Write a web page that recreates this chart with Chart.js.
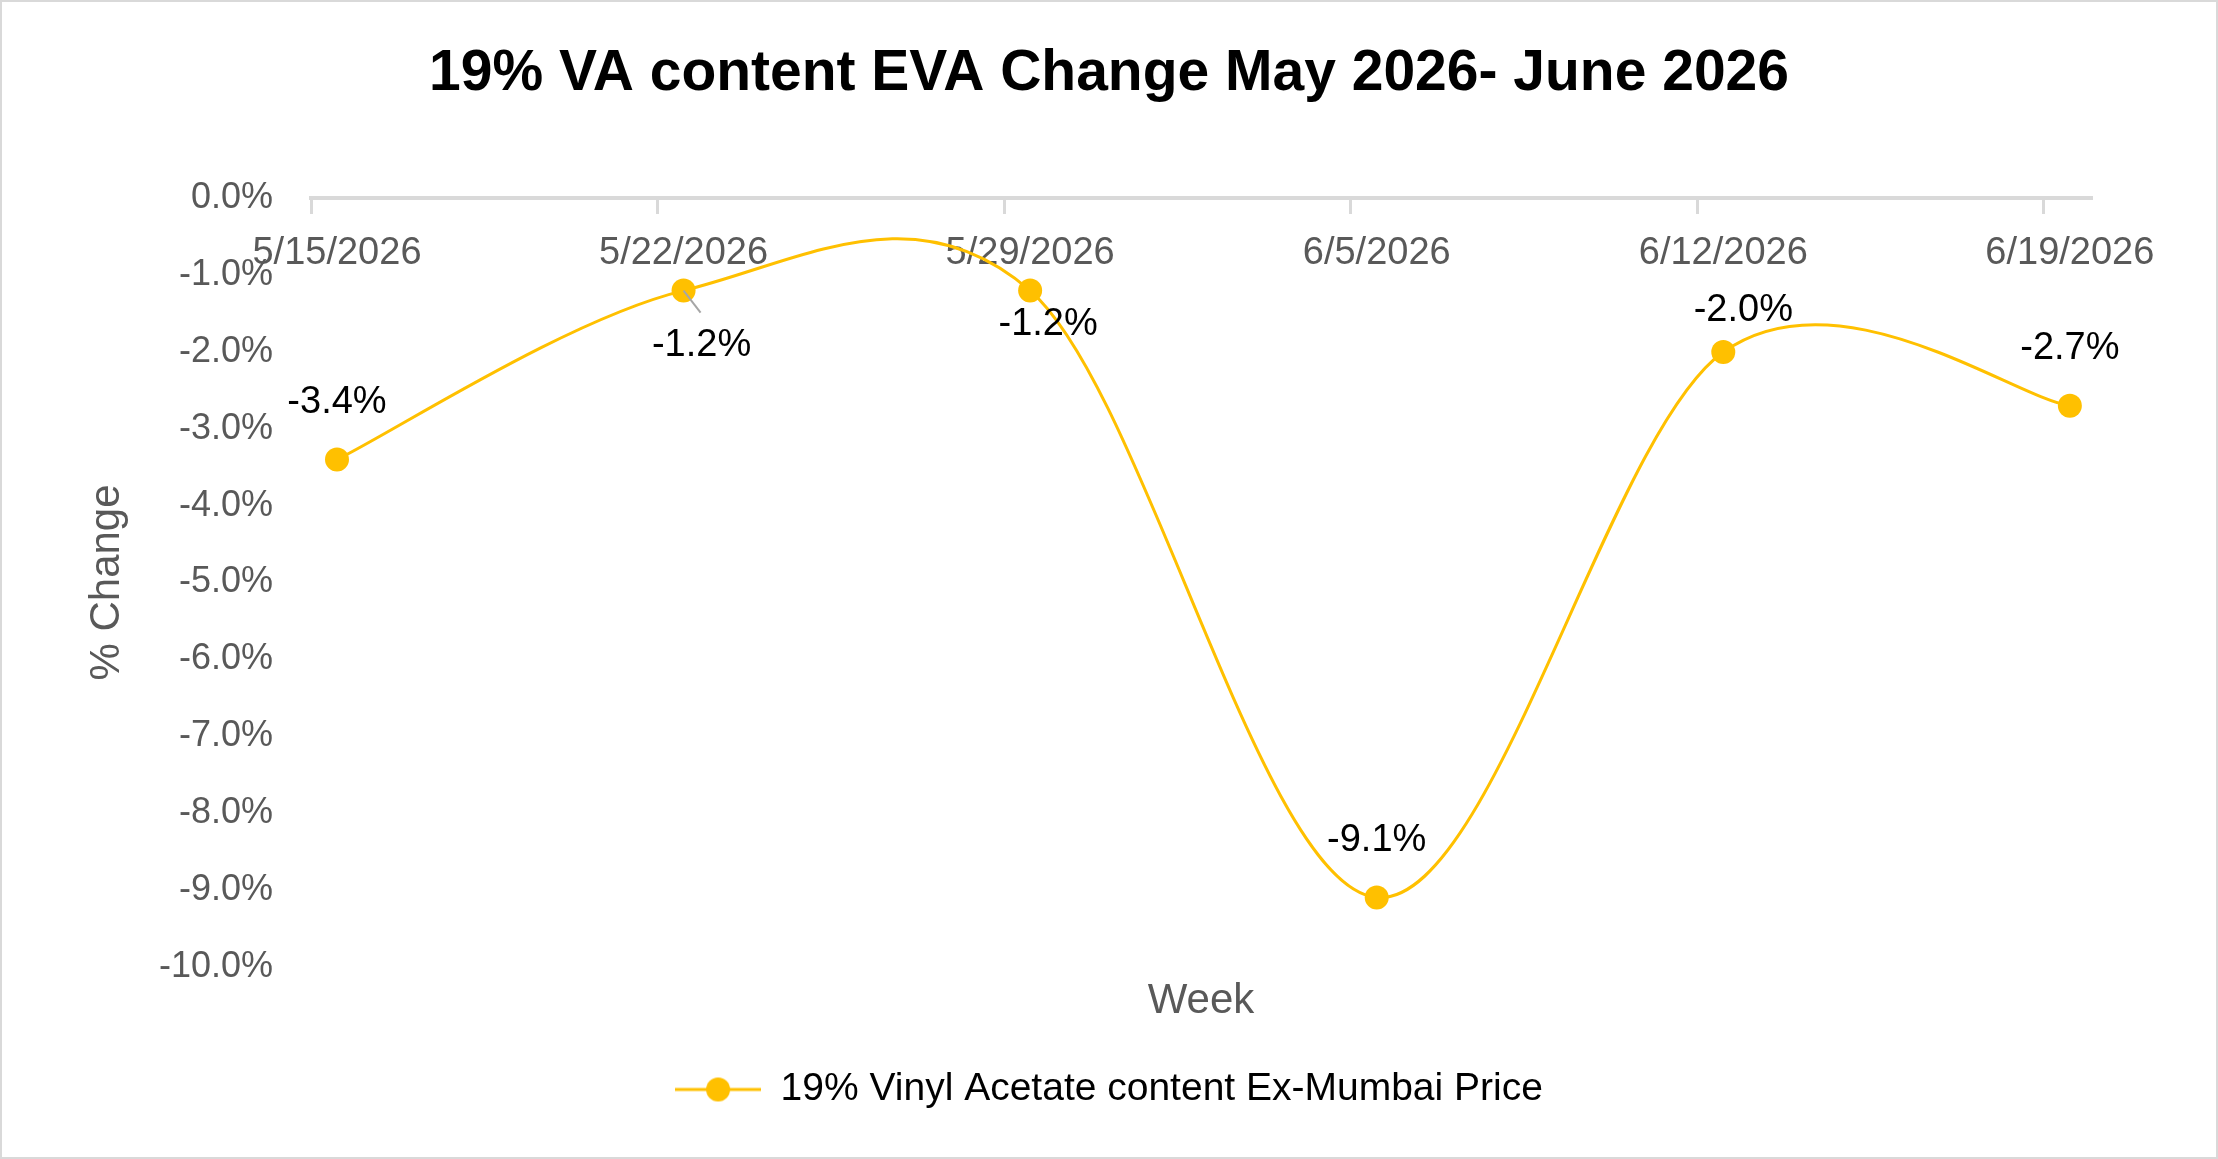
<!DOCTYPE html>
<html>
<head>
<meta charset="utf-8">
<script src="https://cdn.jsdelivr.net/npm/chart.js@4"></script>
<style>
  html, body { margin: 0; padding: 0; background: #fff; }
  #wrap {
    width: 2218px; height: 1159px; box-sizing: border-box;
    border: 2px solid #d9d9d9; background: #fff;
  }
  #chart { display: block; }
</style>
</head>
<body>
<div id="wrap"><canvas id="chart" width="2214" height="1155"></canvas></div>
<script>
// Week labels (x axis)
const weekLabels = ['5/15/2026', '5/22/2026', '5/29/2026', '6/5/2026', '6/12/2026', '6/19/2026'];
// % change values
const changeValues = [-3.4, -1.2, -1.2, -9.1, -2.0, -2.7];
const seriesName = '19% Vinyl Acetate content Ex-Mumbai Price';

const GOLD = '#FFC000';
const GREY_TEXT = '#595959';
const FONT = "'Liberation Sans', Arial, sans-serif";

// where the axis starts/ends relative to the first/last week
const X_MIN = -0.075;
const X_MAX = 5.061;

// legend marker: short line with a dot on it
function makeLegendMarker() {
    const c = document.createElement('canvas');
    c.width = 86;
    c.height = 28;
    const g = c.getContext('2d');
    g.strokeStyle = GOLD;
    g.lineWidth = 3;
    g.beginPath();
    g.moveTo(0, 14);
    g.lineTo(86, 14);
    g.stroke();
    g.fillStyle = GOLD;
    g.beginPath();
    g.arc(43, 14, 12, 0, Math.PI * 2);
    g.fill();
    return c;
}

// Excel-like smoothing: plain Catmull-Rom control points (1/6 of the chord)
const excelSmooth = {
    id: 'excelSmooth',
    beforeDatasetsDraw(chart) {
        const meta = chart.getDatasetMeta(0);
        const pts = meta.data;
        pts.forEach((p, i) => {
            const prev = pts[i - 1] || p;
            const next = pts[i + 1] || p;
            const dx = (next.x - prev.x) / 6;
            const dy = (next.y - prev.y) / 6;
            p.cp1x = p.x - dx;
            p.cp1y = p.y - dy;
            p.cp2x = p.x + dx;
            p.cp2y = p.y + dy;
        });
        meta.dataset._pointsUpdated = true;
    }
};

// draws the value labels next to each point
const valueLabels = {
    id: 'valueLabels',
    afterDatasetsDraw(chart, args, opts) {
        const ctx = chart.ctx;
        const meta = chart.getDatasetMeta(0);
        const values = chart.data.datasets[0].data;
        ctx.save();
        ctx.font = opts.font;
        ctx.fillStyle = opts.color;
        ctx.textAlign = 'center';
        ctx.textBaseline = 'middle';
        meta.data.forEach((pt, i) => {
            const off = opts.offsets[i];
            const lx = pt.x + off[0];
            const ly = pt.y + off[1];
            if (opts.leaders.includes(i)) {
                ctx.strokeStyle = '#a6a6a6';
                ctx.lineWidth = 2;
                ctx.beginPath();
                ctx.moveTo(pt.x, pt.y);
                ctx.lineTo(pt.x + 17, pt.y + 22);
                ctx.stroke();
            }
            ctx.fillText(values[i].y.toFixed(1) + '%', lx, ly);
        });
        ctx.restore();
    }
};

new Chart(document.getElementById('chart'), {
    type: 'line',
    data: {
        datasets: [{
            label: seriesName,
            data: changeValues.map((v, i) => ({ x: i, y: v })),
            borderColor: GOLD,
            backgroundColor: GOLD,
            borderWidth: 3,
            pointRadius: 12,
            pointHoverRadius: 12,
            pointBackgroundColor: GOLD,
            pointBorderWidth: 0,
            tension: 0.4,
            fill: false
        }]
    },
    options: {
        responsive: false,
        animation: false,
        layout: { padding: { left: 0, right: 0, top: 0, bottom: 38 } },
        plugins: {
            title: {
                display: true,
                text: '19% VA content EVA Change May 2026- June 2026',
                color: '#000',
                font: { family: FONT, size: 57, weight: 'bold' },
                padding: { top: 38, bottom: 90 }
            },
            legend: {
                display: true,
                position: 'bottom',
                labels: {
                    usePointStyle: true,
                    pointStyle: makeLegendMarker(),
                    pointStyleWidth: 86,
                    boxHeight: 28,
                    color: '#000',
                    font: { family: FONT, size: 39 },
                    padding: 10
                }
            },
            tooltip: { enabled: false },
            valueLabels: {
                font: '38px ' + FONT,
                color: '#000',
                offsets: [[0, -57], [18, 55], [18, 34], [0, -57], [20, -42], [0, -57]],
                leaders: [1]
            }
        },
        scales: {
            x: {
                type: 'linear',
                position: { y: 0 },
                min: X_MIN,
                max: X_MAX,
                afterBuildTicks: (s) => { s.ticks = weekLabels.map((_, i) => ({ value: i })); },
                ticks: {
                    autoSkip: false,
                    maxRotation: 0,
                    padding: 32,
                    color: GREY_TEXT,
                    font: { family: FONT, size: 38 },
                    callback: (v) => weekLabels[v]
                },
                grid: { display: false, drawTicks: false },
                border: { display: false }
            },
            xMarks: {
                type: 'linear',
                axis: 'x',
                position: { y: 0 },
                min: X_MIN,
                max: X_MAX,
                afterBuildTicks: (s) => { s.ticks = weekLabels.map((_, i) => ({ value: i + X_MIN })); },
                ticks: { display: false, autoSkip: false },
                grid: {
                    display: true,
                    drawOnChartArea: false,
                    drawTicks: true,
                    tickLength: 14,
                    color: '#d9d9d9',
                    lineWidth: 3
                },
                border: { display: true, color: '#d9d9d9', width: 4 }
            },
            xTitle: {
                type: 'linear',
                axis: 'x',
                position: 'bottom',
                min: 0,
                max: 1,
                ticks: { display: false },
                grid: { display: false, drawTicks: false },
                border: { display: false },
                title: {
                    display: true,
                    text: 'Week',
                    color: GREY_TEXT,
                    font: { family: FONT, size: 42 },
                    padding: { top: 10, bottom: 33 }
                }
            },
            y: {
                type: 'linear',
                position: 'left',
                min: -10,
                max: 0,
                afterFit: (s) => { s.width = 309; },
                ticks: {
                    stepSize: 1,
                    padding: 38,
                    color: GREY_TEXT,
                    font: { family: FONT, size: 36 },
                    callback: (v) => v.toFixed(1) + '%'
                },
                grid: { display: false, drawTicks: false },
                border: { display: false },
                title: {
                    display: true,
                    text: '% Change',
                    color: GREY_TEXT,
                    font: { family: FONT, size: 42 },
                    padding: { top: 80, bottom: 0 }
                }
            },
            yRight: {
                type: 'linear',
                axis: 'y',
                position: 'right',
                afterFit: (s) => { s.width = 125; },
                ticks: { display: false },
                grid: { display: false, drawTicks: false },
                border: { display: false }
            }
        }
    },
    plugins: [excelSmooth, valueLabels]
});
</script>
</body>
</html>
